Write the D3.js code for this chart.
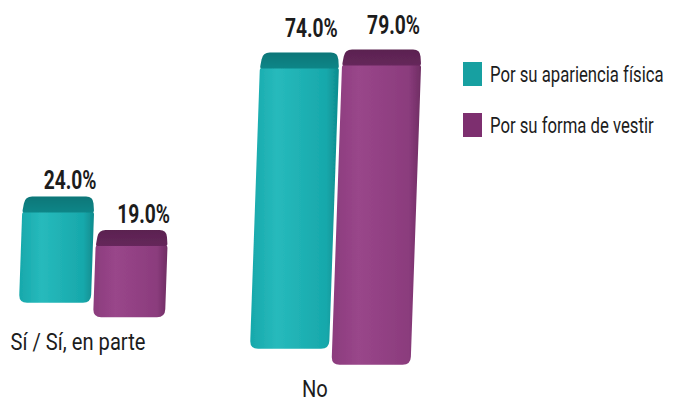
<!DOCTYPE html>
<html>
<head>
<meta charset="utf-8">
<script src="https://cdn.jsdelivr.net/npm/d3@7"></script>
<style>
  html, body { margin: 0; padding: 0; background: #ffffff; }
  svg { display: block; }
  .cond { font-family: Roboto, 'Liberation Sans', sans-serif; }
</style>
</head>
<body>
<svg id="chart" width="682" height="403"></svg>
<script>
// Survey answers per category, one value per series (percent)
const categories = ["Sí / Sí, en parte", "No"];
const seriesNames = ["Por su apariencia física", "Por su forma de vestir"];
const apariencia = [24.0, 74.0];
const vestir = [19.0, 79.0];
const valueLabels = [["24.0%", "74.0%"], ["19.0%", "79.0%"]];

const seriesValues = [apariencia, vestir];

const svg = d3.select("#chart");

// palette: front face, lit front, dark side, top bevel, legend swatch
const palette = [
  { front: "#17a8ab", light: "#27babc", side: "#0e8b8d", top: "#0c7678", swatch: "#17a0a1" },
  { front: "#8b3c7d", light: "#99468a", side: "#6f2d63", top: "#5a2250", swatch: "#7d2f6f" }
];

// group (category) placement and series placement within a group
const xCat = d3.scaleBand().domain(categories).range([19, 481]).paddingInner(0);
const xSer = d3.scaleBand().domain(seriesNames).range([0, 146]).paddingInner(0.03);
// bar height per percent
const yLen = d3.scaleLinear().domain([0, 100]).range([0, 380]);

// receding floor: bars further right sit lower and appear larger
const floorY = x => 292 + 0.196 * x;
const persp = gx => 1 + 0.1 * (gx - 19) / 231;
const bevel = 15;

// gradients
const defs = svg.append("defs");
palette.forEach((p, j) => {
  const g = defs.append("linearGradient").attr("id", "front" + j)
    .attr("x1", "0%").attr("x2", "100%").attr("y1", "0%").attr("y2", "0%");
  g.append("stop").attr("offset", "0%").attr("stop-color", p.front);
  g.append("stop").attr("offset", "30%").attr("stop-color", p.light);
  g.append("stop").attr("offset", "86%").attr("stop-color", p.front);
  g.append("stop").attr("offset", "100%").attr("stop-color", p.side);
  const t = defs.append("linearGradient").attr("id", "top" + j)
    .attr("x1", "0%").attr("x2", "0%").attr("y1", "0%").attr("y2", "100%");
  t.append("stop").attr("offset", "0%").attr("stop-color", p.top);
  t.append("stop").attr("offset", "100%").attr("stop-color", d3.color(p.top).brighter(0.35));
});
defs.append("filter").attr("id", "soft")
  .append("feGaussianBlur").attr("stdDeviation", 0.5);

// build bar records
const bars = [];
categories.forEach((cat, i) => {
  const gx = xCat(cat);
  const f = persp(gx);
  seriesNames.forEach((s, j) => {
    const v = seriesValues[j][i];
    const x0 = gx + xSer(s) * f;
    const w = xSer.bandwidth() * f;
    const cx = x0 + w / 2;
    const base = floorY(cx);
    const h = yLen(v);
    const skew = 0.035 * h;
    bars.push({ cat, s, i, j, v, x0, w, cx, base, h, top: base - h, skew,
      topCx: cx + skew, label: valueLabels[j][i] });
  });
});

// rounded polygon path through the given corners
function roundedQuad(pts, r) {
  const n = pts.length;
  let d = "";
  for (let k = 0; k < n; k++) {
    const p = pts[k], prev = pts[(k + n - 1) % n], next = pts[(k + 1) % n];
    const v1 = [prev[0] - p[0], prev[1] - p[1]], v2 = [next[0] - p[0], next[1] - p[1]];
    const l1 = Math.hypot(...v1), l2 = Math.hypot(...v2);
    const rr = Math.min(r[k], l1 / 2, l2 / 2);
    const a = [p[0] + v1[0] / l1 * rr, p[1] + v1[1] / l1 * rr];
    const b = [p[0] + v2[0] / l2 * rr, p[1] + v2[1] / l2 * rr];
    d += (k === 0 ? "M" : "L") + a[0] + "," + a[1] + "Q" + p[0] + "," + p[1] + " " + b[0] + "," + b[1];
  }
  return d + "Z";
}

const gBars = svg.append("g").attr("filter", "url(#soft)");
const barG = gBars.selectAll("g.bar").data(bars).join("g").attr("class", "bar");

// front face
barG.append("path")
  .attr("d", d => roundedQuad([
    [d.x0 + d.skew, d.top],
    [d.x0 + d.w + d.skew, d.top],
    [d.x0 + d.w, d.base],
    [d.x0, d.base]
  ], [3, 3, 8, 8]))
  .attr("fill", d => `url(#front${d.j})`);

// top bevel face
barG.append("path")
  .attr("d", d => roundedQuad([
    [d.x0 + d.skew + 3, d.top - bevel],
    [d.x0 + d.w + d.skew - 1, d.top - bevel],
    [d.x0 + d.w + d.skew, d.top + 1],
    [d.x0 + d.skew, d.top + 1]
  ], [7, 7, 2, 2]))
  .attr("fill", d => `url(#top${d.j})`);

// value labels, condensed
svg.selectAll("text.val").data(bars).join("text")
  .attr("class", "val cond")
  .attr("transform", d => `translate(${d.topCx + 12},${d.top - bevel - (4 + 0.04 * d.h)}) scale(0.74,1)`)
  .attr("text-anchor", "middle")
  .attr("font-size", 26)
  .attr("font-weight", "bold")
  .attr("fill", "#1c1c1c")
  .text(d => d.label);

// category labels below each group
svg.selectAll("text.cat").data(categories).join("text")
  .attr("class", "cat cond")
  .attr("transform", c => {
    const gx = xCat(c), f = persp(gx);
    return `translate(${gx + 59 * f},${floorY(gx + 72 * f) + 40}) scale(0.84,1)`;
  })
  .attr("text-anchor", "middle")
  .attr("font-size", 24)
  .attr("fill", "#1c1c1c")
  .text(c => c);

// legend
const legend = svg.append("g").attr("transform", "translate(463,62)");
const li = legend.selectAll("g").data(seriesNames).join("g")
  .attr("transform", (s, j) => `translate(0,${j * 51})`);
li.append("rect").attr("width", 19).attr("height", 24)
  .attr("fill", (s, j) => palette[j].swatch);
li.append("text").attr("class", "cond")
  .attr("transform", "translate(27,20) scale(0.76,1)")
  .attr("font-size", 22)
  .attr("fill", "#1c1c1c")
  .text(s => s);
</script>
</body>
</html>
